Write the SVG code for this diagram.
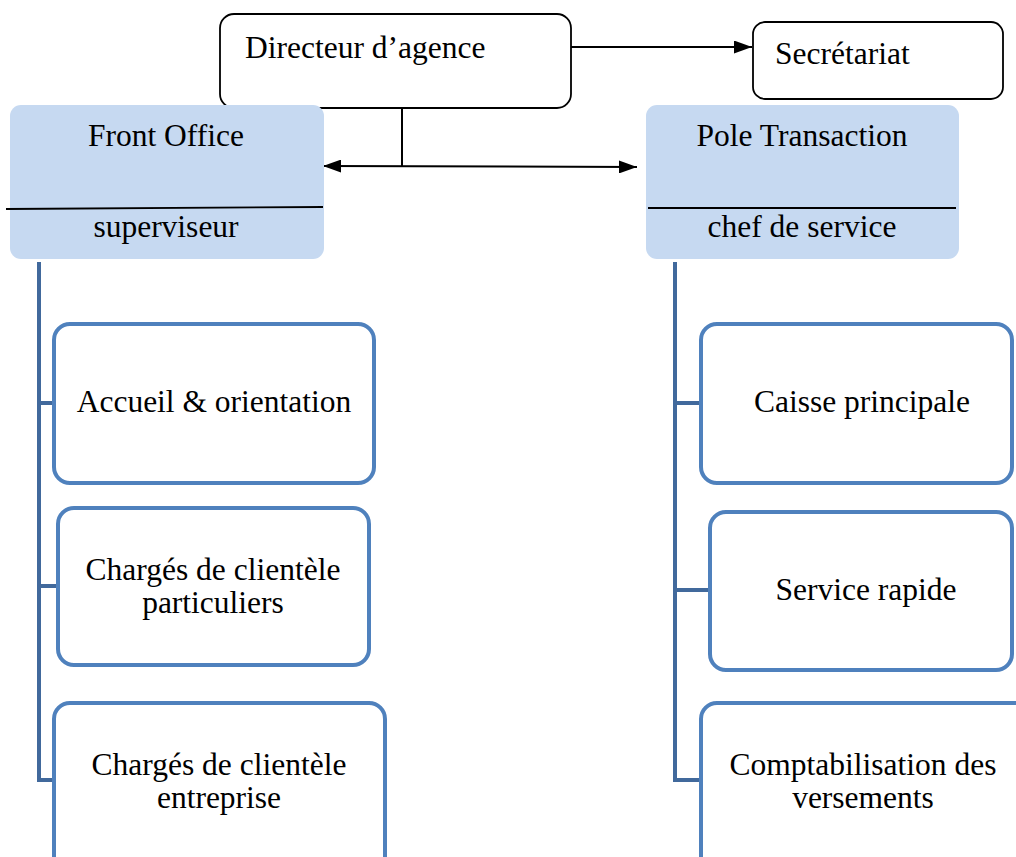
<svg xmlns="http://www.w3.org/2000/svg" width="1016" height="857" viewBox="0 0 1016 857">
  <style>
    text { font-family: "Liberation Serif", "Times New Roman", serif; font-size: 31.5px; fill: #000; }
    .mid { text-anchor: middle; }
    .plain { fill: #fff; stroke: #000; stroke-width: 1.8; }
    .head { fill: #c6d9f1; }
    .sep { stroke: #000; stroke-width: 1.8; }
    .unit { fill: #fff; stroke: #4f81bd; stroke-width: 4; }
    .link { fill: none; stroke: #000; stroke-width: 2; }
    .bracket { fill: none; stroke: #41699c; stroke-width: 4; }
  </style>
  <defs>
    <marker id="arrow" viewBox="0 0 18 13" refX="18" refY="6.5" markerWidth="18" markerHeight="13" markerUnits="userSpaceOnUse" orient="auto-start-reverse">
      <path d="M0,0 L18,6.5 L0,13 Z" fill="#000"/>
    </marker>
  </defs>

  <rect width="1016" height="857" fill="#fff"/>

  <!-- connectors -->
  <g id="connectors">
    <line class="link" x1="571" y1="47" x2="752" y2="47" marker-end="url(#arrow)"/>
    <line class="link" x1="402" y1="98" x2="402" y2="166"/>
    <line class="link" x1="323" y1="166" x2="637" y2="167" marker-start="url(#arrow)" marker-end="url(#arrow)"/>
    <path class="bracket" d="M39,262 V780 H54 M39,403 H54 M39,586 H58"/>
    <path class="bracket" d="M675,262 V780 H701 M675,403 H701 M675,590 H710"/>
  </g>

  <g id="directeur">
    <rect class="plain" x="220" y="14" width="351" height="94" rx="14"/>
    <text x="245" y="58">Directeur d’agence</text>
  </g>

  <g id="secretariat">
    <rect class="plain" x="753" y="22" width="250" height="77" rx="12"/>
    <text x="775" y="64">Secrétariat</text>
  </g>

  <g id="front-office">
    <rect class="head" x="10" y="105" width="314" height="154" rx="11"/>
    <line class="sep" x1="6" y1="209" x2="323" y2="207"/>
    <text class="mid" x="166" y="146">Front Office</text>
    <text class="mid" x="166" y="237">superviseur</text>
  </g>

  <g id="pole-transaction">
    <rect class="head" x="646" y="105" width="313" height="154" rx="11"/>
    <line class="sep" x1="648" y1="208" x2="956" y2="208"/>
    <text class="mid" x="802" y="146">Pole Transaction</text>
    <text class="mid" x="802" y="237">chef de service</text>
  </g>

  <g id="accueil">
    <rect class="unit" x="54" y="324" width="320" height="159" rx="16"/>
    <text class="mid" x="214" y="412">Accueil &amp; orientation</text>
  </g>

  <g id="clientele-particuliers">
    <rect class="unit" x="58" y="508" width="311" height="157" rx="16"/>
    <text class="mid" x="213" y="580">Chargés de clientèle</text>
    <text class="mid" x="213" y="613">particuliers</text>
  </g>

  <g id="clientele-entreprise">
    <rect class="unit" x="54" y="703" width="331" height="170" rx="16"/>
    <text class="mid" x="219" y="775">Chargés de clientèle</text>
    <text class="mid" x="219" y="808">entreprise</text>
  </g>

  <g id="caisse">
    <rect class="unit" x="701" y="324" width="311" height="159" rx="16"/>
    <text class="mid" x="862" y="412">Caisse principale</text>
  </g>

  <g id="service-rapide">
    <rect class="unit" x="710" y="512" width="302" height="158" rx="16"/>
    <text class="mid" x="866" y="600">Service rapide</text>
  </g>

  <g id="comptabilisation">
    <rect class="unit" x="701" y="703" width="330" height="170" rx="16"/>
    <text class="mid" x="863" y="775">Comptabilisation des</text>
    <text class="mid" x="863" y="808">versements</text>
  </g>
</svg>
